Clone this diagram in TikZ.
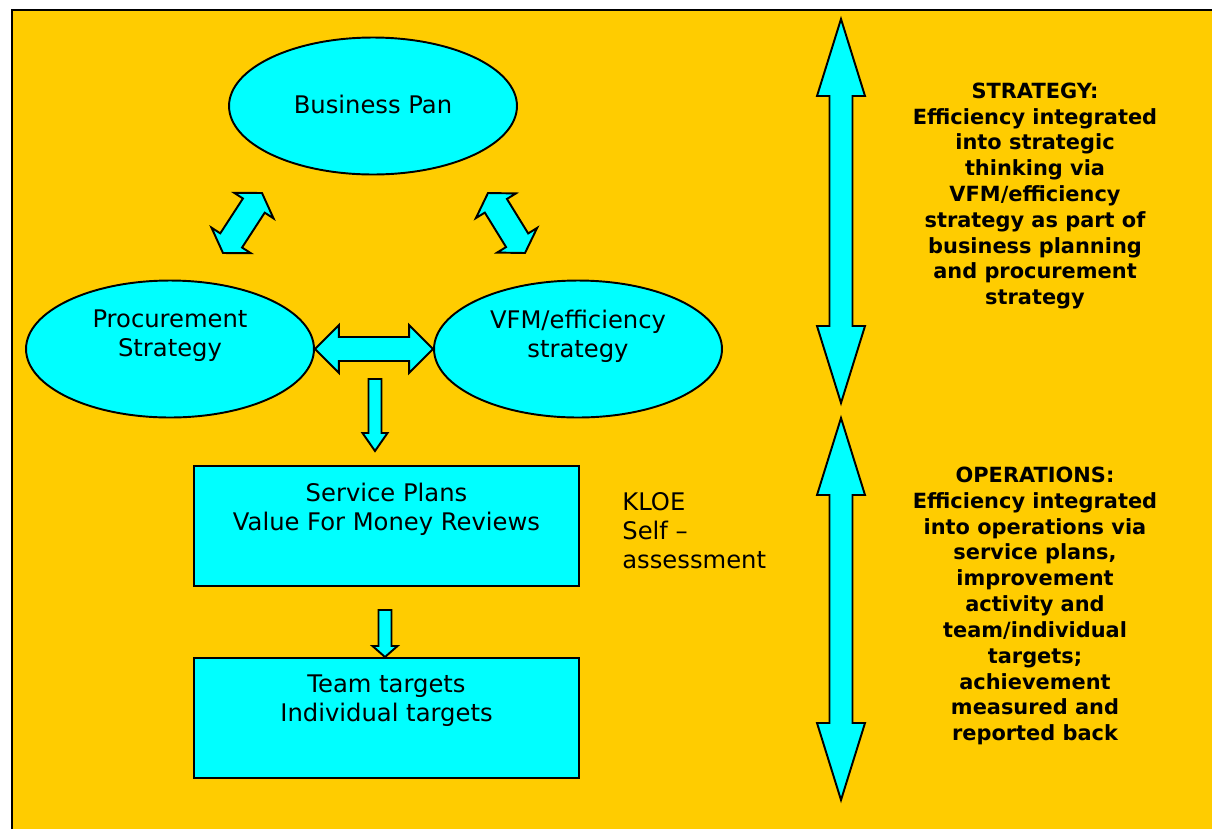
\documentclass[tikz,border=0pt]{standalone}
\usepackage{fontspec}
\setmainfont{DejaVu Sans}
\usetikzlibrary{shapes.geometric,calc}

\definecolor{panelorange}{HTML}{FFCC00}
\definecolor{shapecyan}{HTML}{00FFFF}

% double block arrow: tip, tip, head length, head half width, shaft half width
\newcommand{\dblblock}[5]{%
  \draw[blockarrow] (#1)
    -- ($(#1)!#3!(#2)!#4!90:(#2)$) -- ($(#1)!#3!(#2)!#5!90:(#2)$)
    -- ($(#2)!#3!(#1)!#5!-90:(#1)$) -- ($(#2)!#3!(#1)!#4!-90:(#1)$)
    -- (#2)
    -- ($(#2)!#3!(#1)!#4!90:(#1)$) -- ($(#2)!#3!(#1)!#5!90:(#1)$)
    -- ($(#1)!#3!(#2)!#5!-90:(#2)$) -- ($(#1)!#3!(#2)!#4!-90:(#2)$)
    -- cycle;}
% single block arrow: tail, tip, head length, head half width, shaft half width
\newcommand{\oneblock}[5]{%
  \draw[blockarrow] ($(#1)!#5!90:(#2)$)
    -- ($(#2)!#3!(#1)!#5!-90:(#1)$) -- ($(#2)!#3!(#1)!#4!-90:(#1)$)
    -- (#2)
    -- ($(#2)!#3!(#1)!#4!90:(#1)$) -- ($(#2)!#3!(#1)!#5!90:(#1)$)
    -- ($(#1)!#5!-90:(#2)$) -- cycle;}

\begin{document}
\begin{tikzpicture}[x=0.02cm, y=-0.02cm,
    blob/.style={ellipse, draw, line width=1.1pt, fill=shapecyan, minimum width=5.76cm, minimum height=2.74cm},
    planbox/.style={rectangle, draw, line width=1.1pt, fill=shapecyan, minimum width=7.7cm, minimum height=2.4cm},
    plain/.style={align=center, font=\fontsize{13.8}{16.5}\selectfont, inner sep=0pt},
    side/.style={align=center, font=\fontsize{11.9}{14.7}\selectfont\bfseries, inner sep=0pt},
    blockarrow/.style={draw, line width=1.1pt, line join=miter, fill=shapecyan}]
    \useasboundingbox (0,0) rectangle (1212,829);

    % panel
    \fill[panelorange] (12,10) rectangle (1212,829);
    \draw[line width=1.1pt] (12,829) -- (12,10) -- (1212,10);

    % planning shapes
    \node [blob] (business) at (373,106) {};
    \node [blob] (procurement) at (170,349) {};
    \node [blob] (vfm) at (578,349) {};
    \node [plain] at (373,104) {Business Pan};
    \node [plain] at (170,336) {Procurement\\Strategy};
    \node [plain] at (578,336) {VFM/efficiency\\strategy};

    \node [planbox] (service) at (386.5,526) {};
    \node [planbox] (targets) at (386.5,718) {};
    \node [plain] at (386.5,509) {Service Plans\\Value For Money Reviews};
    \node [plain] at (386.5,701) {Team targets\\Individual targets};

    \node [plain, align=left, anchor=west] (kloe) at (622,531) {KLOE\\Self --\\assessment};

    % arrow ends
    \coordinate (bizL) at (262,193);
    \coordinate (procT) at (223,253);
    \coordinate (bizR) at (488,193);
    \coordinate (vfmT) at (525,253);
    \coordinate (downA) at (375,379);
    \coordinate (serviceT) at (375,451);
    \coordinate (downB) at (385,610);
    \coordinate (targetsT) at (385,657);
    \coordinate (stratTop) at (841,19);
    \coordinate (stratBot) at (841,403);
    \coordinate (opsTop) at (841,418);
    \coordinate (opsBot) at (841,800);

    \dblblock{procT}{bizL}{0.3cm}{0.47cm}{0.26cm}
    \dblblock{vfmT}{bizR}{0.3cm}{0.47cm}{0.26cm}
    \dblblock{procurement.east}{vfm.west}{0.48cm}{0.48cm}{0.24cm}
    \oneblock{downA}{serviceT}{0.36cm}{0.25cm}{0.13cm}
    \oneblock{downB}{targetsT}{0.22cm}{0.25cm}{0.13cm}
    \dblblock{stratTop}{stratBot}{1.54cm}{0.48cm}{0.23cm}
    \dblblock{opsTop}{opsBot}{1.54cm}{0.48cm}{0.23cm}

    % side notes
    \node [side] (strategy) at (1035,196) {STRATEGY:\\Efficiency integrated\\into strategic\\thinking via\\VFM/efficiency\\strategy as part of\\business planning\\and procurement\\strategy};
    \node [side] (operations) at (1035,606) {OPERATIONS:\\Efficiency integrated\\into operations via\\service plans,\\improvement\\activity and\\team/individual\\targets;\\achievement\\measured and\\reported back};
\end{tikzpicture}
\end{document}
